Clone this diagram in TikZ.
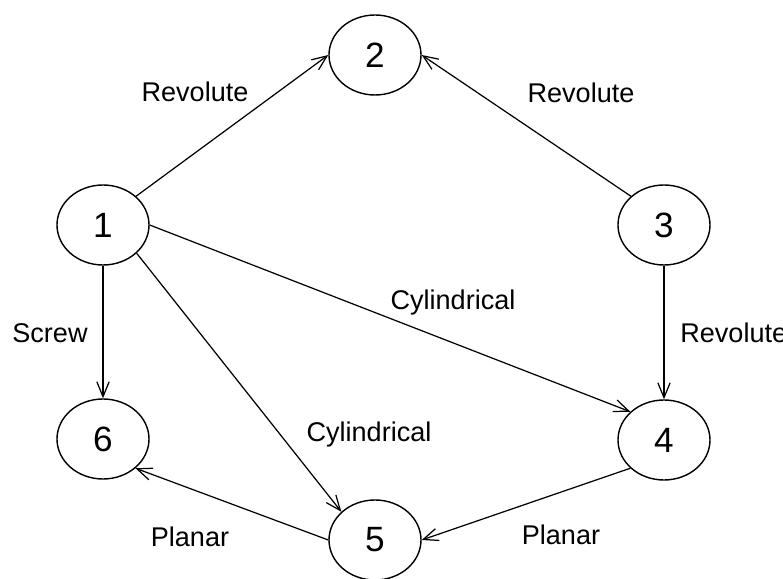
\documentclass[tikz,border=0pt]{standalone}
\usepackage{fontspec}
\setmainfont{Liberation Sans}
\usetikzlibrary{arrows.meta,shapes.geometric}

\begin{document}
\begin{tikzpicture}

    % Define styles
    \tikzset{
        body/.style={ellipse, draw=black, line width=0.8pt, minimum width=1.84cm,
                     minimum height=1.6cm, inner sep=0pt, font=\fontsize{20}{24}\selectfont},
        joint/.style={line width=0.7pt, -{Straight Barb[length=8.5pt,width=7pt]}},
        label/.style={anchor=base, inner sep=0pt, font=\fontsize{15.4}{18}\selectfont}
    }

    % Fix the picture size
    \useasboundingbox (0,0) rectangle (15.66,-11.58);

    % Bodies
    \node[body] (b1) at (2.06,-4.50) {1};
    \node[body] (b2) at (7.50,-1.10) {2};
    \node[body] (b3) at (13.28,-4.50) {3};
    \node[body] (b4) at (13.28,-8.80) {4};
    \node[body] (b5) at (7.50,-10.80) {5};
    \node[body] (b6) at (2.06,-8.78) {6};

    % Joints between the bodies
    \draw[joint] (b1.41) -- (b2.west);
    \draw[joint] (b3.139) -- (b2.east);
    \draw[joint] (b1.south) -- (b6.north);
    \draw[joint] (b1.east) -- (b4.140);
    \draw[joint] (b1.-40) -- (b5.140);
    \draw[joint] (b3.south) -- (b4.north);
    \draw[joint] (b4.-140) -- (b5.east);
    \draw[joint] (b5.west) -- (b6.-42);

    % Joint labels
    \node[label] (rev12) at (3.90,-2.04) {Revolute};
    \node[label] (rev32) at (11.62,-2.06) {Revolute};
    \node[label] (scr16) at (1.00,-6.86) {Screw};
    \node[label, anchor=base west] (rev34) at (13.60,-6.86) {Revolute};
    \node[label] (cyl14) at (9.06,-6.20) {Cylindrical};
    \node[label] (cyl15) at (7.38,-8.84) {Cylindrical};
    \node[label] (pla56) at (3.80,-10.94) {Planar};
    \node[label] (pla45) at (11.22,-10.90) {Planar};

\end{tikzpicture}
\end{document}
